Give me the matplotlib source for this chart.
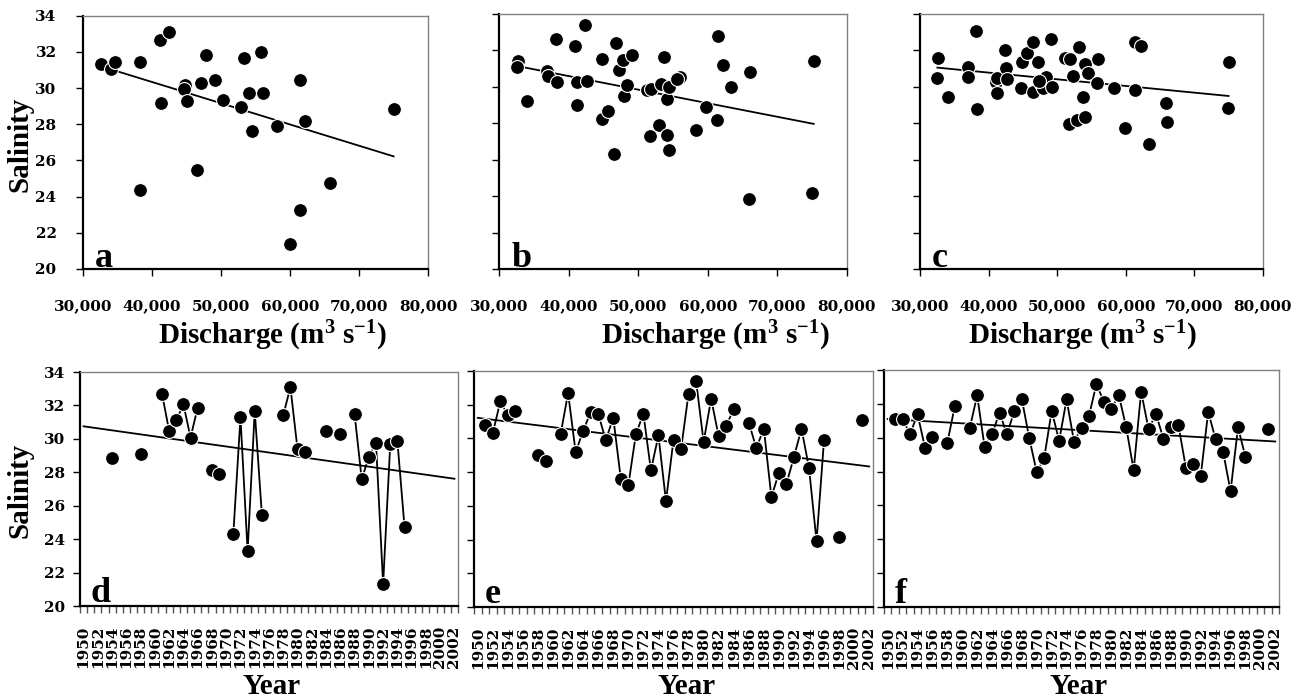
import numpy as np
import matplotlib
matplotlib.use("Agg")
import matplotlib.pyplot as plt
from matplotlib.ticker import FuncFormatter, MultipleLocator

plt.rcParams["font.family"] = "Liberation Serif"
plt.rcParams["font.weight"] = "bold"
plt.rcParams["mathtext.fontset"] = "custom"
plt.rcParams["mathtext.rm"] = "Liberation Serif:bold"
plt.rcParams["mathtext.bf"] = "Liberation Serif:bold"
plt.rcParams["mathtext.default"] = "rm"

# salinity vs discharge, three stations
dis_a = [32660, 34110, 34690, 38210, 38310, 41110, 41260, 42420, 44830, 44640,
         45120, 46570, 47150, 47780, 49080, 50290, 52950, 53290, 54060, 54490,
         55850, 56090, 58160, 59950, 61400, 61400, 62130, 65850, 75020]
sal_a = [31.31, 31.06, 31.46, 31.42, 24.34, 32.66, 29.16, 33.08, 30.17, 29.93,
         29.31, 25.48, 30.27, 31.83, 30.45, 29.35, 28.98, 31.65, 29.75, 27.63,
         32.01, 29.71, 27.93, 21.38, 30.45, 23.28, 28.20, 24.75, 28.85]

dis_b = [32680, 32540, 34070, 36940, 37080, 38130, 38370, 40910, 41150, 41240,
         42340, 42580, 44830, 44740, 45690, 46560, 46750, 47230, 47750, 47990,
         48420, 49140, 51200, 51680, 51910, 53010, 53210, 53680, 54070, 54070,
         54400, 54400, 55980, 55600, 58280, 59810, 61390, 61480, 62200, 63300,
         65930, 66030, 74980, 75220]
sal_b = [31.43, 31.09, 29.24, 30.85, 30.57, 32.62, 30.24, 32.22, 30.24, 29.02,
         33.41, 30.30, 31.54, 28.25, 28.65, 26.31, 32.40, 30.90, 31.49, 29.48,
         30.12, 31.73, 29.84, 27.28, 29.88, 27.92, 30.17, 31.62, 29.35, 27.34,
         29.99, 26.55, 30.54, 30.43, 27.65, 28.87, 28.16, 32.77, 31.18, 29.97,
         23.86, 30.79, 24.17, 31.43]

dis_c = [32680, 32530, 34130, 36960, 37050, 38170, 38370, 41090, 41280, 41280,
         42400, 42500, 42650, 44840, 44740, 45660, 46540, 46540, 47270, 47610,
         48000, 48340, 49210, 49070, 51160, 51890, 51740, 52280, 52860, 53250,
         53690, 54080, 54080, 54420, 56020, 55780, 58310, 59910, 61370, 61370,
         62200, 63320, 65900, 65990, 74990, 74890, 47410]
sal_c = [31.56, 30.47, 29.42, 31.11, 30.56, 33.09, 28.78, 30.29, 30.51, 29.69,
         32.02, 31.05, 30.45, 31.38, 29.91, 31.87, 32.47, 29.73, 31.38, 30.18,
         29.93, 30.55, 30.00, 32.65, 31.56, 31.51, 27.96, 30.60, 28.18, 32.20,
         29.42, 31.24, 28.36, 30.78, 31.51, 30.20, 29.93, 27.73, 32.47, 29.82,
         32.24, 26.84, 29.11, 28.05, 31.38, 28.84, 30.33]

# salinity by year, same three stations
years = np.arange(1950, 2003)

yrs_d = [1954, 1958, 1961, 1962, 1963, 1964, 1965, 1966, 1968, 1969, 1971, 1972,
         1973, 1974, 1975, 1978, 1979, 1980, 1981, 1984, 1986, 1988, 1989, 1990,
         1991, 1992, 1993, 1994, 1995]
sal_d = [28.86, 29.12, 32.70, 30.47, 31.11, 32.07, 30.08, 31.87, 28.16, 27.88,
         24.32, 31.29, 23.28, 31.67, 25.47, 31.41, 33.10, 29.38, 29.24, 30.47,
         30.31, 31.47, 27.59, 28.92, 29.76, 21.31, 29.68, 29.88, 24.74]

yrs_e = [1951, 1952, 1953, 1954, 1955, 1958, 1959, 1961, 1962, 1963, 1964, 1965,
         1966, 1967, 1968, 1969, 1970, 1971, 1972, 1973, 1974, 1975, 1976, 1977,
         1978, 1979, 1980, 1981, 1982, 1983, 1984, 1986, 1987, 1988, 1989, 1990,
         1991, 1992, 1993, 1994, 1995, 1996, 1998, 2001]
sal_e = [30.82, 30.32, 32.20, 31.37, 31.63, 29.04, 28.64, 30.24, 32.69, 29.19,
         30.44, 31.57, 31.47, 29.89, 31.23, 27.61, 27.22, 30.24, 31.47, 28.11,
         30.18, 26.27, 29.93, 29.35, 32.66, 33.41, 29.79, 32.36, 30.12, 30.76,
         31.73, 30.94, 29.43, 30.58, 26.53, 27.95, 27.30, 28.90, 30.58, 28.25,
         23.90, 29.93, 24.15, 31.07]

yrs_f = [1951, 1952, 1953, 1954, 1955, 1956, 1958, 1959, 1961, 1962, 1963, 1964,
         1965, 1966, 1967, 1968, 1969, 1970, 1971, 1972, 1973, 1974, 1975, 1976,
         1977, 1978, 1979, 1980, 1981, 1982, 1983, 1984, 1985, 1986, 1987, 1988,
         1989, 1990, 1991, 1992, 1993, 1994, 1995, 1996, 1997, 1998, 2001]
sal_f = [31.10, 31.08, 30.21, 31.40, 29.42, 30.02, 29.70, 31.87, 30.55, 32.50,
         29.46, 30.21, 31.48, 30.21, 31.59, 32.26, 29.96, 27.95, 28.81, 31.59,
         29.82, 32.26, 29.76, 30.59, 31.28, 33.17, 32.13, 31.69, 32.52, 30.61,
         28.08, 32.72, 30.51, 31.40, 29.92, 30.61, 30.75, 28.24, 28.42, 27.75,
         31.53, 29.90, 29.17, 26.84, 30.61, 28.87, 30.49]

W, H = 1301, 698
fig = plt.figure(figsize=(W / 100, H / 100), dpi=100)


def box(l, t, r, b):
    return [l / W, 1 - b / H, (r - l) / W, (b - t) / H]


def style(ax, pad_y, pad_x):
    for s in ["top", "right"]:
        ax.spines[s].set_color("#808080")
        ax.spines[s].set_linewidth(1.0)
    for s in ["left", "bottom"]:
        ax.spines[s].set_color("black")
        ax.spines[s].set_linewidth(1.6)
    ax.set_ylim(20, 34)
    ax.yaxis.set_major_locator(MultipleLocator(2))
    ax.tick_params(axis="y", direction="out", length=5, width=1, pad=pad_y,
                   labelsize=11, labelfontfamily="DejaVu Serif")
    ax.tick_params(axis="x", direction="out", length=5, width=1, pad=pad_x,
                   labelsize=11, labelfontfamily="DejaVu Serif")


def dot(ax, x, y):
    ax.plot(x, y, "o", ms=10, mfc="black", mec="white", mew=0.8, zorder=3)


top = [("a", dis_a, sal_a, box(83, 15.7, 428, 269), 272),
       ("b", dis_b, sal_b, box(499, 14, 847, 269), 715),
       ("c", dis_c, sal_c, box(920, 14, 1263, 269), 1082)]

for i, (lab, xd, yd, pos, xc) in enumerate(top):
    ax = fig.add_axes(pos)
    style(ax, 14, 16.5)
    ax.set_xlim(30000, 80000)
    ax.xaxis.set_major_locator(MultipleLocator(10000))
    ax.xaxis.set_major_formatter(FuncFormatter(lambda v, p: f"{int(v):,}"))
    xd = np.array(xd)
    yd = np.array(yd)
    k, c0 = np.polyfit(xd, yd, 1)
    xx = np.array([xd.min(), xd.max()])
    ax.plot(xx, k * xx + c0, color="black", lw=1.3, zorder=2)
    dot(ax, xd, yd)
    if i > 0:
        ax.set_yticklabels([])
    ax.text(0.035, 0.008, lab, transform=ax.transAxes, fontsize=26,
            fontweight="bold", va="baseline")
    fig.text(xc / W, 1 - 336 / H, "Discharge (m$^{3}$ s$^{-1}$)", fontsize=21,
             fontweight="bold", ha="center", va="center")

bottom = [("d", yrs_d, sal_d, box(80, 372, 458, 606), 272),
          ("e", yrs_e, sal_e, box(474, 371, 873, 607), 687),
          ("f", yrs_f, sal_f, box(884, 370, 1279, 607), 1079)]

for i, (lab, yr, sv, pos, xc) in enumerate(bottom):
    ax = fig.add_axes(pos)
    style(ax, 6, 11)
    full = np.full(len(years), np.nan)
    full[np.array(yr) - years[0]] = sv
    ax.plot(years, full, color="black", lw=1.3, zorder=2)
    k, c0 = np.polyfit(yr, sv, 1)
    xx = np.array([years[0], years[-1]])
    ax.plot(xx, k * xx + c0, color="black", lw=1.3, zorder=2)
    dot(ax, yr, sv)
    ax.set_xlim(years[0] - 0.5, years[-1] + 0.5)
    ax.set_xticks(years[::2])
    ax.set_xticklabels([str(y) for y in years[::2]], rotation=90)
    ax.set_xticks(np.arange(years[0] - 0.5, years[-1] + 1), minor=True)
    ax.tick_params(axis="x", which="major", length=0, pad=14)
    ax.tick_params(axis="x", which="minor", direction="out", length=5,
                   width=1, color="#555555")
    if i > 0:
        ax.set_yticklabels([])
    ax.text(0.028, 0.017, lab, transform=ax.transAxes, fontsize=26,
            fontweight="bold", va="baseline")
    fig.text(xc / W, 1 - 686 / H, "Year", fontsize=21, fontweight="bold",
             ha="center", va="center")

fig.text(20 / W, 1 - 144 / H, "Salinity", fontsize=21, fontweight="bold",
         rotation=90, ha="center", va="center")
fig.text(20 / W, 1 - 490 / H, "Salinity", fontsize=21, fontweight="bold",
         rotation=90, ha="center", va="center")

fig.savefig("out.png", dpi=100)
